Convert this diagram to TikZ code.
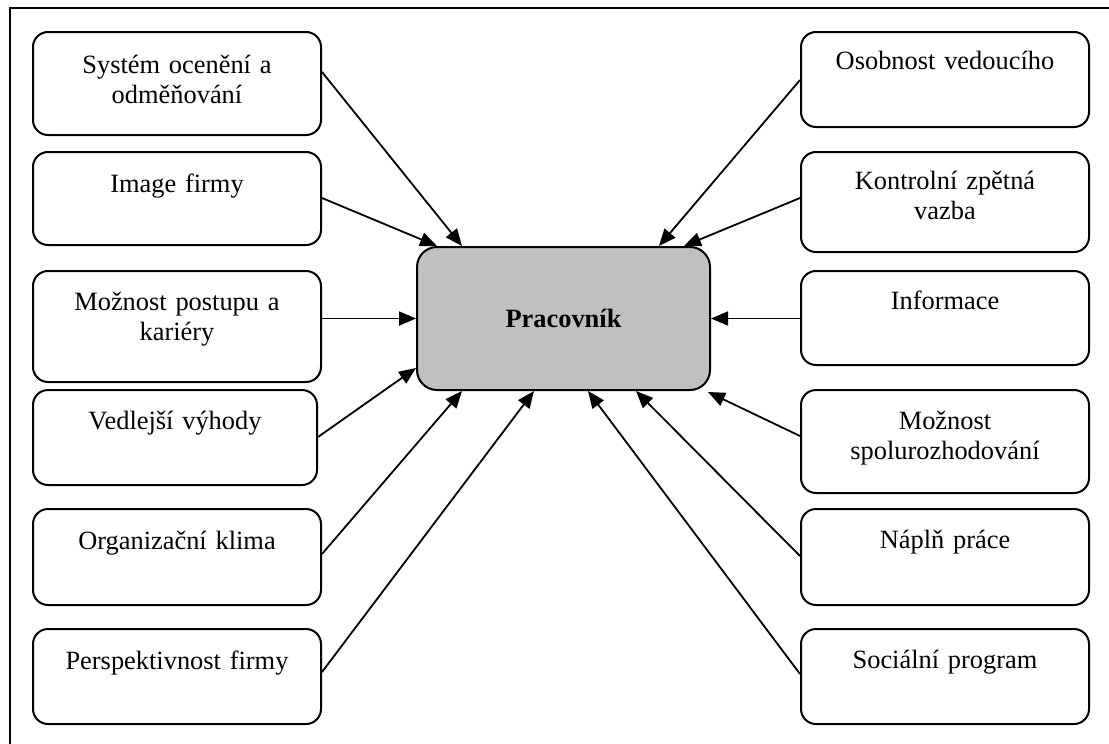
\documentclass[tikz,border=0pt]{standalone}
\usepackage{fontspec}
\setmainfont{Liberation Serif}
\usetikzlibrary{arrows.meta,calc}

\definecolor{centerfill}{HTML}{C0C0C0}

\begin{document}
\begin{tikzpicture}[
  x=0.5pt, y=-0.5pt,
  factor/.style={draw, line width=1pt, rounded corners=7.5pt,
    minimum width=144pt, inner sep=0pt},
  hub/.style={draw, line width=1pt, rounded corners=10pt, fill=centerfill,
    minimum width=146.5pt, minimum height=71.5pt, inner sep=0pt,
    font=\fontsize{13.2}{15}\selectfont\bfseries},
  lbl/.style={anchor=base, align=center, text width=140pt, inner sep=0pt,
    font=\fontsize{13.2}{15}\selectfont},
  link/.style={line width=0.9pt, -{Triangle[length=8.5pt,width=7pt]}},
  frame/.style={line width=1pt}
]
\useasboundingbox (0,0) rectangle (1109,744);
\clip (0,0) rectangle (1109,744);

% outer frame (runs off the right and bottom edges)
\draw[frame] (10,8) rectangle (1130,770);

% central node
\node[hub] (P) at (563.5,318.5) {Pracovník};

% factors on the left
\node[factor, minimum height=51.5pt] (L1) at (177,83.5) {};
\node[factor, minimum height=46.5pt] (L2) at (177,198.5) {};
\node[factor, minimum height=55.5pt] (L3) at (177,326.5) {};
\node[factor, minimum height=47.5pt, minimum width=142pt] (L4) at (175,437.5) {};
\node[factor, minimum height=48pt] (L5) at (177,557) {};
\node[factor, minimum height=47.5pt] (L6) at (177,676.5) {};

\node[lbl] (tL1) at ($(L1.north)+(0,42)$) {Systém ocenění a\\odměňování};
\node[lbl] (tL2) at ($(L2.north)+(0,41)$) {Image firmy};
\node[lbl] (tL3) at ($(L3.north)+(0,40)$) {Možnost postupu a\\kariéry};
\node[lbl] (tL4) at ($(L4.north)+(0,40)$) {Vedlejší výhody};
\node[lbl] (tL5) at ($(L5.north)+(0,41)$) {Organizační klima};
\node[lbl] (tL6) at ($(L6.north)+(0,41)$) {Perspektivnost firmy};

% factors on the right
\node[factor, minimum height=47.5pt] (R1) at (945,79.5) {};
\node[factor, minimum height=50pt] (R2) at (945,202) {};
\node[factor, minimum height=47pt] (R3) at (945,318) {};
\node[factor, minimum height=51.5pt] (R4) at (945,441.5) {};
\node[factor, minimum height=48pt] (R5) at (945,557) {};
\node[factor, minimum height=47.5pt] (R6) at (945,676.5) {};

\node[lbl] (tR1) at ($(R1.north)+(0,38)$) {Osobnost vedoucího};
\node[lbl] (tR2) at ($(R2.north)+(0,38)$) {Kontrolní zpětná\\vazba};
\node[lbl] (tR3) at ($(R3.north)+(0,39)$) {Informace};
\node[lbl] (tR4) at ($(R4.north)+(0,40)$) {Možnost\\spolurozhodování};
\node[lbl] (tR5) at ($(R5.north)+(0,40)$) {Náplň práce};
\node[lbl] (tR6) at ($(R6.north)+(0,40)$) {Sociální program};

% connectors from the left
\draw[link] ($(L1.north east)+(0,41)$) -- ($(P.north west)+(46,0)$);
\draw[link] ($(L2.north east)+(0,47)$) -- ($(P.north west)+(21,0)$);
\draw[link] (L3.east |- P.west) -- (P.west);
\draw[link] ($(L4.north east)+(0,48)$) -- ($(P.south west)+(0,-23)$);
\draw[link] ($(L5.north east)+(0,46)$) -- ($(P.south west)+(46,0)$);
\draw[link] ($(L6.north east)+(0,44)$) -- ($(P.south west)+(118,0)$);

% connectors from the right
\draw[link] ($(R1.north west)+(0,49)$) -- ($(P.north east)+(-52,0)$);
\draw[link] ($(R2.north west)+(0,47)$) -- ($(P.north east)+(-27,0)$);
\draw[link] (R3.west |- P.east) -- (P.east);
\draw[link] ($(R4.north west)+(0,47)$) -- ($(P.south east)+(-3,1)$);
\draw[link] ($(R5.north west)+(0,48)$) -- ($(P.south east)+(-75,0)$);
\draw[link] ($(R6.north west)+(0,46)$) -- ($(P.south east)+(-123,0)$);
\end{tikzpicture}
\end{document}
